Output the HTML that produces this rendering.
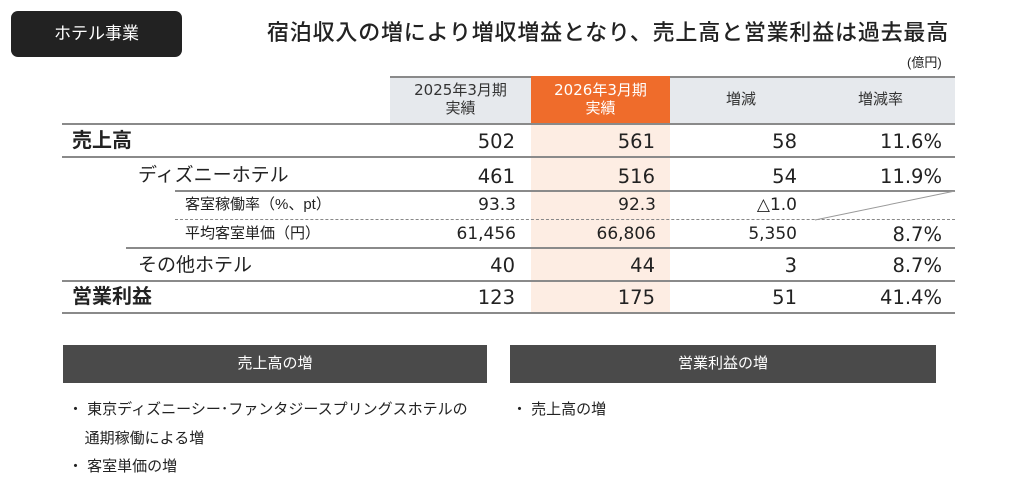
<!DOCTYPE html>
<html><head><meta charset="utf-8"><style>
*{margin:0;padding:0;box-sizing:border-box}
body{width:1024px;height:499px;background:#fff;position:relative;overflow:hidden;font-family:"Liberation Sans","Noto Sans CJK JP",sans-serif;color:#222}
.a{position:absolute;white-space:nowrap;line-height:1}
.ln{position:absolute;height:0;border-top:2px solid #8a8a8a}
.r{position:absolute;text-align:right;white-space:nowrap;line-height:1;font-family:"DejaVu Sans","Noto Sans CJK JP",sans-serif}
.big .r{font-size:19.5px}
.sm .r{font-size:17px}
</style></head><body>
<div class="a" style="left:11px;top:11px;width:171px;height:46px;background:#222;border-radius:7px;color:#fff;font-size:17px;line-height:46px;text-align:center">ホテル事業</div>
<div class="a" style="left:267px;top:22px;font-size:22px;font-weight:500;letter-spacing:0.8px">宿泊収入の増により増収増益となり、売上高と営業利益は過去最高</div>
<div class="a" style="left:907px;top:56px;font-size:13px">(億円)</div>

<div class="a" style="left:390px;top:76px;width:565px;height:48px;background:#e6e9ed;border-top:2px solid #8a8a8a"></div>
<div class="a" style="left:531px;top:76px;width:139px;height:48px;background:#ef6c2b"></div>
<div class="a" style="left:531px;top:124px;width:139px;height:189px;background:#fdede3"></div>
<div class="a" style="left:390px;top:81px;width:141px;text-align:center;line-height:18px;color:#333;font-family:'DejaVu Sans','Noto Sans CJK JP',sans-serif;font-size:15px">2025年3月期<br>実績</div>
<div class="a" style="left:531px;top:81px;width:139px;text-align:center;font-size:15px;line-height:18px;color:#fff;font-family:'DejaVu Sans','Noto Sans CJK JP',sans-serif">2026年3月期<br>実績</div>
<div class="a" style="left:726px;top:92px;font-size:15px;color:#333">増減</div>
<div class="a" style="left:858px;top:92px;font-size:15px;color:#333">増減率</div>

<div class="ln" style="left:62px;width:893px;top:123px"></div>
<div class="ln" style="left:62px;width:893px;top:156px"></div>
<div class="ln" style="left:175px;width:780px;top:190px"></div>
<div class="a" style="left:175px;width:780px;top:219px;border-top:1px dashed #888"></div>
<div class="ln" style="left:126px;width:829px;top:247px"></div>
<div class="ln" style="left:62px;width:893px;top:280px"></div>
<div class="ln" style="left:62px;width:893px;top:312px"></div>
<svg class="a" style="left:810px;top:190px" width="146" height="32"><line x1="145" y1="1" x2="5" y2="30" stroke="#999" stroke-width="1"/></svg>

<div class="a" style="left:72px;top:131px;font-size:20px;font-weight:bold">売上高</div>
<div class="a" style="left:138px;top:166px;font-size:19px">ディズニーホテル</div>
<div class="a" style="left:185px;top:197px;font-size:15px">客室稼働率（%、pt）</div>
<div class="a" style="left:185px;top:226px;font-size:15px">平均客室単価（円）</div>
<div class="a" style="left:138px;top:256px;font-size:19px">その他ホテル</div>
<div class="a" style="left:72px;top:287px;font-size:20px;font-weight:bold">営業利益</div>

<div class="big">
<div class="r" style="right:509px;top:132px">502</div><div class="r" style="right:369px;top:132px">561</div><div class="r" style="right:227px;top:132px">58</div><div class="r" style="right:82px;top:132px">11.6%</div>
<div class="r" style="right:509px;top:167px">461</div><div class="r" style="right:369px;top:167px">516</div><div class="r" style="right:227px;top:167px">54</div><div class="r" style="right:82px;top:167px">11.9%</div>
<div class="r" style="right:509px;top:256px">40</div><div class="r" style="right:369px;top:256px">44</div><div class="r" style="right:227px;top:256px">3</div><div class="r" style="right:82px;top:256px">8.7%</div>
<div class="r" style="right:509px;top:288px">123</div><div class="r" style="right:369px;top:288px">175</div><div class="r" style="right:227px;top:288px">51</div><div class="r" style="right:82px;top:288px">41.4%</div>
<div class="r" style="right:82px;top:225px">8.7%</div>
</div>
<div class="sm">
<div class="r" style="right:508px;top:197px">93.3</div><div class="r" style="right:368px;top:197px">92.3</div><div class="r" style="right:227px;top:197px">△1.0</div>
<div class="r" style="right:508px;top:226px">61,456</div><div class="r" style="right:368px;top:226px">66,806</div><div class="r" style="right:227px;top:226px">5,350</div>
</div>

<div class="a" style="left:63px;top:345px;width:424px;height:38px;background:#4a4a4a;color:#fff;font-size:15px;line-height:38px;text-align:center">売上高の増</div>
<div class="a" style="left:510px;top:345px;width:426px;height:38px;background:#4a4a4a;color:#fff;font-size:15px;line-height:38px;text-align:center">営業利益の増</div>
<div class="a" style="left:68px;top:396px;font-size:15px;line-height:28.5px">・ 東京ディズニーシー･ファンタジースプリングスホテルの<br>&nbsp;&nbsp;&nbsp;&nbsp;通期稼働による増<br>・ 客室単価の増</div>
<div class="a" style="left:512px;top:396px;font-size:15px;line-height:28.5px">・ 売上高の増</div>
</body></html>
